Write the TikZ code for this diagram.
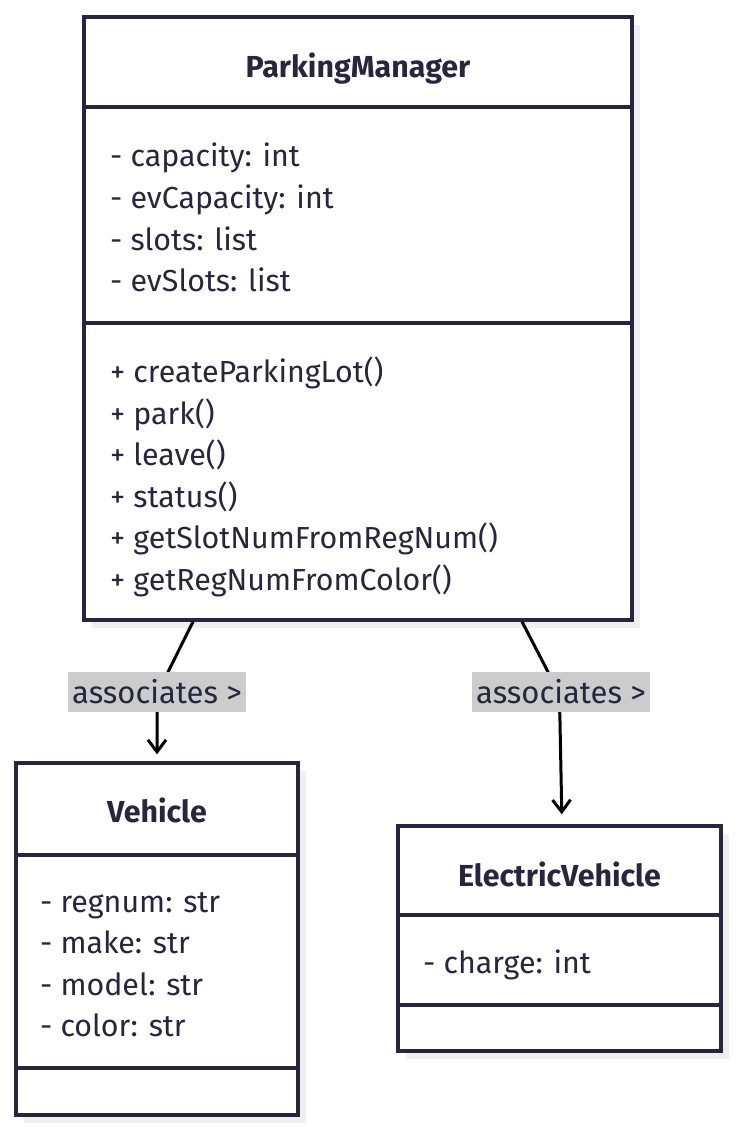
\documentclass[tikz,border=0pt]{standalone}
\usepackage{fontspec}
\setmainfont{Fira Sans}
\usetikzlibrary{arrows.meta}
\definecolor{ink}{HTML}{28263F}
\definecolor{shade}{HTML}{EFEFEF}
\definecolor{lblbg}{HTML}{CCCCCC}
\begin{document}
\begin{tikzpicture}[x=1pt,y=-1pt,
  txt/.style={anchor=base west, inner sep=0pt, text=ink, font=\fontsize{30.4}{34}\selectfont},
  title/.style={anchor=base, inner sep=0pt, text=ink, font=\fontsize{30.4}{34}\selectfont\bfseries},
  umlbox/.style={draw=ink, line width=3.3pt, fill=white, inner sep=0pt},
  divider/.style={draw=ink, line width=3.3pt},
  shadowbox/.style={fill=shade},
  assoc/.style={draw=black, line width=3pt, -{Straight Barb[length=12pt,width=18pt,line width=3pt]}},
  lbl/.style={fill=lblbg, text=ink, inner xsep=0pt, inner ysep=0pt, minimum width=178pt, minimum height=40pt, font=\fontsize{31}{34}\selectfont}]
\useasboundingbox (0,0) rectangle (738,1134);
% shadows
\fill[shadowbox] (92,25) rectangle (640,628);
\fill[shadowbox] (24,771) rectangle (306,1123);
\fill[shadowbox] (406,834) rectangle (729,1059);
% boxes
\node[umlbox, minimum width=548pt, minimum height=603pt] (pm) at (358,318.5) {};
\node[umlbox, minimum width=282pt, minimum height=352pt] (veh) at (157,939) {};
\node[umlbox, minimum width=323pt, minimum height=225pt] (ev) at (559.5,938.5) {};
% dividers
\draw[divider] (pm.west |- 0,107) -- (pm.east |- 0,107);
\draw[divider] (pm.west |- 0,323) -- (pm.east |- 0,323);
\draw[divider] (veh.west |- 0,855) -- (veh.east |- 0,855);
\draw[divider] (veh.west |- 0,1068) -- (veh.east |- 0,1068);
\draw[divider] (ev.west |- 0,915) -- (ev.east |- 0,915);
\draw[divider] (ev.west |- 0,1005) -- (ev.east |- 0,1005);
% titles
\node[title] (pmt) at (358,78) {ParkingManager};
\node[title] (veht) at (157,822) {Vehicle};
\node[title] (evt) at (559.5,886) {ElectricVehicle};
% ParkingManager attributes
\node[txt] (pa1) at (110,167) {- capacity: int};
\node[txt] (pa2) at (110,208) {- evCapacity: int};
\node[txt] (pa3) at (110,250) {- slots: list};
\node[txt] (pa4) at (110,291) {- evSlots: list};
% ParkingManager methods
\node[txt] (pm1) at (110,382.5) {+ createParkingLot()};
\node[txt] (pm2) at (110,424) {+ park()};
\node[txt] (pm3) at (110,465.5) {+ leave()};
\node[txt] (pm4) at (110,507) {+ status()};
\node[txt] (pm5) at (110,548.5) {+ getSlotNumFromRegNum()};
\node[txt] (pm6) at (110,590) {+ getRegNumFromColor()};
% Vehicle attributes
\node[txt] (va1) at (40,912) {- regnum: str};
\node[txt] (va2) at (40,953) {- make: str};
\node[txt] (va3) at (40,995) {- model: str};
\node[txt] (va4) at (40,1036) {- color: str};
% ElectricVehicle attributes
\node[txt] (ea1) at (423,973) {- charge: int};
% connectors
\coordinate (s1) at (pm.south -| 193,0);
\coordinate (s2) at (pm.south -| 522,0);
\draw[assoc, shorten >=7pt] (s1) -- (170,668) .. controls (160,688) and (157,700) .. (157,720) -- (veh.north -| 157,0);
\draw[assoc, shorten >=10pt] (s2) -- (546,668) .. controls (556,688) and (560,700) .. (560,722) -- (ev.north -| 562,0);
% labels
\node[lbl] (l1) at (157,692) {associates >};
\node[lbl] (l2) at (561,692) {associates >};
\end{tikzpicture}
\end{document}
